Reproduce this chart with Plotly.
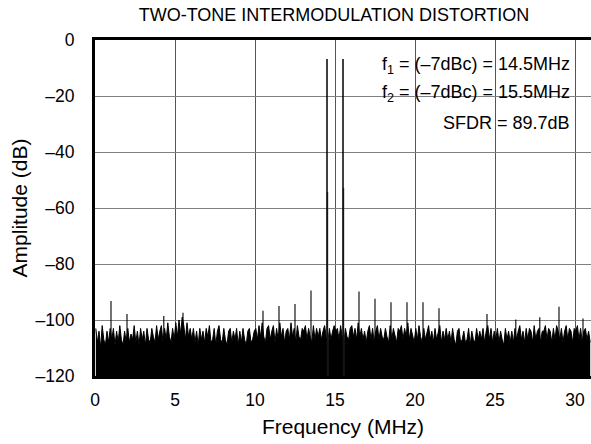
import numpy as np
import plotly.graph_objects as go

# ---- data ----
tone_freq_mhz = [14.5, 15.5]
tone_amp_db = [-6.8, -6.8]
tone_side_freq_mhz = [14.53, 15.53]
tone_side_amp_db = [-54.3, -52.9]

spur_freq_mhz = [1.0, 2.0, 4.3, 5.5, 10.5, 11.5, 12.5, 13.5, 16.5, 17.5,
                 18.5, 19.5, 20.5, 21.5, 24.5, 26.3, 27.8, 29.0, 30.5]
spur_amp_db = [-93.2, -97.9, -98.6, -97.4, -96.7, -95.0, -94.3, -89.5, -89.8, -92.4,
               -93.7, -93.7, -93.7, -95.8, -97.9, -99.8, -99.0, -95.3, -99.5]

# noise floor upper envelope, one row per MHz (0.1 MHz bins)
noise_db = [
    -103, -108, -104, -110, -102, -107, -109, -104, -108, -103,
    -107, -103, -109, -104, -108, -102, -107, -109, -104, -108,
    -103, -108, -105, -107, -102, -108, -104, -109, -103, -107,
    -104, -109, -103, -107, -108, -103, -106, -108, -102, -107,
    -104, -102, -108, -103, -107, -101, -106, -108, -103, -107,
    -101, -106, -100, -105, -99, -102, -107, -101, -106, -103,
    -107, -103, -108, -104, -109, -103, -107, -104, -108, -103,
    -106, -102, -108, -107, -103, -109, -104, -102, -107, -108,
    -103, -107, -109, -104, -103, -108, -104, -107, -103, -109,
    -104, -108, -103, -107, -109, -104, -103, -108, -107, -104,
    -103, -107, -102, -106, -101, -106, -108, -103, -102, -107,
    -104, -102, -108, -103, -107, -101, -106, -103, -108, -104,
    -103, -107, -101, -106, -103, -108, -102, -106, -107, -103,
    -104, -102, -107, -103, -106, -108, -102, -107, -103, -106,
    -103, -107, -104, -102, -106, -108, -103, -107, -104, -102,
    -104, -103, -107, -102, -106, -108, -103, -106, -107, -103,
    -102, -106, -103, -107, -101, -106, -103, -107, -104, -108,
    -104, -102, -107, -103, -108, -104, -102, -107, -103, -106,
    -107, -103, -106, -108, -102, -107, -103, -106, -108, -103,
    -104, -102, -107, -103, -106, -101, -107, -103, -106, -108,
    -103, -107, -102, -106, -108, -103, -107, -104, -102, -107,
    -104, -108, -103, -107, -104, -102, -108, -104, -107, -103,
    -107, -104, -108, -103, -107, -109, -104, -103, -108, -107,
    -104, -108, -107, -103, -109, -104, -107, -108, -103, -107,
    -104, -107, -103, -108, -104, -102, -107, -103, -108, -104,
    -107, -103, -108, -104, -107, -109, -103, -107, -104, -108,
    -104, -108, -103, -107, -104, -102, -107, -104, -108, -103,
    -107, -103, -104, -108, -102, -107, -104, -103, -108, -104,
    -104, -102, -107, -103, -104, -108, -103, -107, -102, -104,
    -107, -103, -108, -104, -102, -107, -103, -104, -108, -103,
    -104, -102, -107, -103, -108, -104, -103, -107, -104, -108,
]
noise_freq_mhz = list(np.round(np.arange(len(noise_db)) * 0.1 + 0.05, 3))

x_tick_vals = [0, 5, 10, 15, 20, 25, 30]
x_tick_text = ["0", "5", "10", "15", "20", "25", "30"]
y_tick_vals = [0, -20, -40, -60, -80, -100, -120]
y_tick_text = ["0", "\u201320", "\u201340", "\u201360", "\u201380", "\u2013100", "\u2013120"]

legend_lines = ["f<sub>1</sub> = (\u20137dBc) = 14.5MHz",
                "f<sub>2</sub> = (\u20137dBc) = 15.5MHz",
                "SFDR = 89.7dB"]

FLOOR = -120
FONT = "Liberation Sans, Arial, Helvetica, sans-serif"


def stems(freqs, amps):
    xs, ys = [], []
    for f, a in zip(freqs, amps):
        xs += [f, f, None]
        ys += [FLOOR, a, None]
    return xs, ys


fig = go.Figure()

# baseline for the noise fill
fig.add_trace(go.Scatter(x=[noise_freq_mhz[0], noise_freq_mhz[-1]], y=[FLOOR, FLOOR],
                         mode="lines", line=dict(width=0, color="black"),
                         showlegend=False, hoverinfo="skip"))
fig.add_trace(go.Scatter(x=noise_freq_mhz, y=noise_db, mode="lines",
                         line=dict(color="black", width=1),
                         fill="tonexty", fillcolor="black", showlegend=False))

sx, sy = stems(spur_freq_mhz, spur_amp_db)
fig.add_trace(go.Scatter(x=sx, y=sy, mode="lines", line=dict(color="black", width=1.1),
                         showlegend=False))
tx, ty = stems(tone_side_freq_mhz, tone_side_amp_db)
fig.add_trace(go.Scatter(x=tx, y=ty, mode="lines", line=dict(color="#555", width=1.5),
                         showlegend=False))
tx, ty = stems(tone_freq_mhz, tone_amp_db)
fig.add_trace(go.Scatter(x=tx, y=ty, mode="lines", line=dict(color="black", width=1.5),
                         showlegend=False))

# white box behind the text block (covers grid lines)
fig.add_shape(type="rect", xref="x", yref="y", x0=17.05, x1=30.4, y0=-37.5, y1=-2.5,
              fillcolor="white", line=dict(width=0), layer="below")

ann_px = [66, 93, 123]
for txt, py in zip(legend_lines, ann_px):
    fig.add_annotation(text=txt, xref="paper", yref="paper", x=(572 - 95) / 496,
                       y=(376 - py) / 336,
                       xanchor="right", yanchor="middle", showarrow=False,
                       font=dict(family=FONT, size=18, color="black"))

fig.update_layout(
    width=591, height=444, autosize=False,
    margin=dict(l=95, r=0, t=40, b=68),
    paper_bgcolor="white", plot_bgcolor="white",
    font=dict(family=FONT, size=17.5, color="black"),
    title=dict(text="TWO-TONE INTERMODULATION DISTORTION", x=(334 - 95) / 496,
               xref="paper", y=1 - 15 / 444, yref="container",
               xanchor="center", yanchor="middle",
               font=dict(family=FONT, size=18, color="black")),
    showlegend=False,
)
fig.update_xaxes(range=[0, 31], tickvals=x_tick_vals, ticktext=x_tick_text,
                 showgrid=True, gridcolor="#555", gridwidth=1, zeroline=False,
                 showline=True, linecolor="black", linewidth=2.5, mirror=True,
                 ticks="", ticklabelstandoff=6,
                 title=dict(text="Frequency (MHz)", standoff=11))
fig.update_yaxes(range=[-120, 0], tickvals=y_tick_vals, ticktext=y_tick_text,
                 showgrid=True, gridcolor="#808080", gridwidth=1, zeroline=False,
                 showline=True, linecolor="black", linewidth=3, mirror=False,
                 ticks="", ticklabelstandoff=14,
                 title=dict(text="Amplitude (dB)", standoff=3))

fig.write_html("out.html")
